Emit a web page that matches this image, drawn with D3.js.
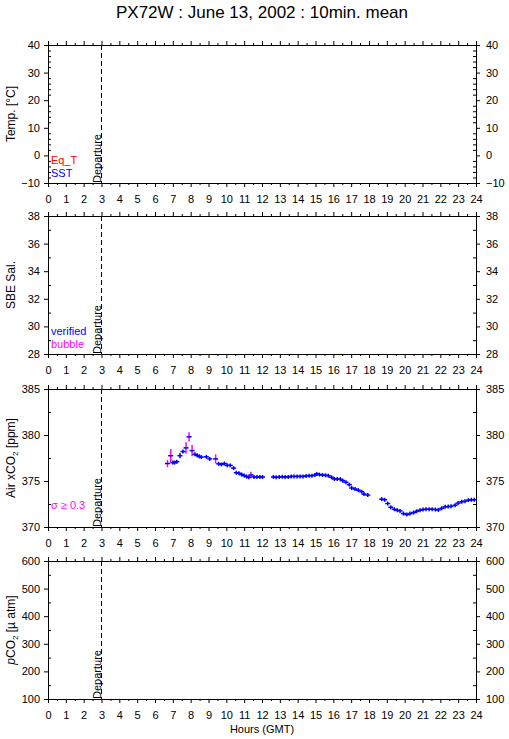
<!DOCTYPE html>
<html>
<head>
<meta charset="utf-8">
<script src="https://cdn.jsdelivr.net/npm/d3@7"></script>
<style>
  body { margin: 0; background: #fff; }
  text { font-family: "Liberation Sans", Helvetica, Arial, sans-serif; }
</style>
</head>
<body>
<div id="chart"></div>
<script>
// hour ticks shared by all panels
var hourTicks = d3.range(0, 25);
var halfHourTicks = d3.range(0.5, 24, 1);
var departureHour = 3;

// panel y axes
var tempTicks = [-10, 0, 10, 20, 30, 40];
var salTicks = [28, 30, 32, 34, 36, 38];
var xco2Ticks = [370, 375, 380, 385];
var pco2Ticks = [100, 200, 300, 400, 500, 600];

// Air xCO2, 10 min means
var airHours = [6.70, 6.88, 7.00, 7.10, 7.22, 7.40, 7.57, 7.74, 7.91, 8.08, 8.24, 8.37, 8.49, 8.60,
  8.88, 9.07, 9.40, 9.57, 9.72, 9.89, 10.05, 10.22, 10.41, 10.56, 10.71, 10.86, 11.00, 11.14,
  11.26, 11.38, 11.55, 11.72, 11.88, 12.03,
  12.64, 12.80, 12.97, 13.14, 13.30, 13.47, 13.64, 13.80, 13.97, 14.14, 14.30, 14.47, 14.64,
  14.80, 14.97, 15.07, 15.22, 15.39, 15.56, 15.72, 15.90, 16.06, 16.22, 16.39, 16.53, 16.71,
  16.90, 17.03, 17.22, 17.40, 17.59, 17.72, 17.93,
  18.71, 18.88, 19.05, 19.22, 19.42, 19.59, 19.74, 19.93, 20.12, 20.30, 20.50, 20.68, 20.86,
  21.03, 21.20, 21.37, 21.54, 21.72, 21.89, 22.08, 22.27, 22.44, 22.60, 22.83, 23.00, 23.20,
  23.38, 23.57, 23.74, 23.90];
var airXco2 = [376.9, 377.75, 377.0, 377.0, 377.1, 377.75, 378.2, 378.6, 379.8, 378.3, 377.9, 377.78, 377.67, 377.6,
  377.63, 377.4, 377.4, 376.87, 376.8, 376.9, 376.7, 376.7, 376.4, 375.9, 375.84, 375.7, 375.6, 375.48,
  375.4, 375.66, 375.44, 375.44, 375.44, 375.44,
  375.44, 375.4, 375.44, 375.46, 375.44, 375.44, 375.5, 375.5, 375.5, 375.5, 375.5, 375.55, 375.58,
  375.58, 375.65, 375.77, 375.7, 375.65, 375.62, 375.58, 375.4, 375.22, 375.22, 375.2, 375.04, 374.86,
  374.6, 374.24, 374.13, 374.0, 373.83, 373.58, 373.47,
  373.03, 372.96, 372.55, 372.15, 371.93, 371.82, 371.75, 371.46, 371.35, 371.46, 371.57, 371.72, 371.82,
  371.9, 371.93, 371.93, 371.93, 371.9, 371.86, 372.04, 372.19, 372.22, 372.25, 372.37, 372.6, 372.74,
  372.81, 372.92, 372.96, 372.96];
var airSigma = [0.4, 0.73, 0, 0, 0, 0.29, 0.1, 0.6, 0.5, 0.6, 0, 0, 0, 0,
  0, 0, 0.5, 0, 0, 0, 0, 0, 0, 0, 0, 0, 0, 0,
  0, 0.35, 0, 0, 0, 0,
  0, 0, 0, 0, 0, 0, 0, 0, 0, 0, 0, 0, 0,
  0, 0, 0, 0, 0, 0, 0, 0, 0, 0, 0, 0, 0,
  0, 0, 0, 0, 0, 0, 0,
  0, 0, 0, 0, 0, 0, 0, 0, 0, 0, 0, 0, 0,
  0, 0, 0, 0, 0, 0, 0, 0, 0, 0, 0, 0, 0,
  0, 0, 0, 0];

var width = 509, height = 739;
var margin = { left: 48, right: 33 };
var plotW = width - margin.left - margin.right;
var panelH = 138;
var panelTops = [45, 216, 389, 561];

var svg = d3.select("#chart").append("svg")
  .attr("width", width).attr("height", height);

svg.append("text")
  .attr("x", 262).attr("y", 18)
  .attr("text-anchor", "middle")
  .attr("font-size", 17)
  .text("PX72W : June 13, 2002 : 10min. mean");

var x = d3.scaleLinear().domain([0, 24]).range([0, plotW]);

var panels = [
  { ticks: tempTicks, minor: 2, label: [["Temp. [°C]"]] },
  { ticks: salTicks, minor: 1, label: [["SBE Sal."]] },
  { ticks: xco2Ticks, minor: 2.5, label: [["Air xCO"], ["2", "sub"], [" [ppm]", "up"]] },
  { ticks: pco2Ticks, minor: 50, label: [["p", "ital"], ["CO"], ["2", "sub"], [" [\u00b5 atm]", "up"]] }
];

panels.forEach(function (p, i) {
  var top = panelTops[i];
  var g = svg.append("g").attr("transform", "translate(" + margin.left + "," + top + ")");
  var lo = p.ticks[0], hi = p.ticks[p.ticks.length - 1];
  var y = d3.scaleLinear().domain([lo, hi]).range([panelH, 0]);
  p.y = y; p.g = g;
  var minorTicks = d3.range(lo, hi + 0.001, p.minor).filter(function (v) {
    return p.ticks.indexOf(v) < 0;
  });

  // bottom: labelled hours + half hours
  g.append("g").attr("transform", "translate(0," + panelH + ")")
    .call(d3.axisBottom(x).tickValues(hourTicks).tickSize(4).tickPadding(8).tickFormat(d3.format("d")));
  g.append("g").attr("transform", "translate(0," + panelH + ")")
    .call(d3.axisBottom(x).tickValues(halfHourTicks).tickSize(2).tickFormat(""));
  // top
  g.append("g").call(d3.axisTop(x).tickValues(hourTicks).tickSize(4).tickFormat(""));
  g.append("g").call(d3.axisTop(x).tickValues(halfHourTicks).tickSize(2).tickFormat(""));
  // left / right
  g.append("g").call(d3.axisLeft(y).tickValues(p.ticks).tickSize(4).tickPadding(4).tickFormat(d3.format("d")));
  g.append("g").call(d3.axisRight(y).tickValues(minorTicks).tickSize(3).tickFormat(""));
  g.append("g").attr("transform", "translate(" + plotW + ",0)")
    .call(d3.axisRight(y).tickValues(p.ticks).tickSize(4).tickPadding(6).tickFormat(d3.format("d")));
  g.append("g").attr("transform", "translate(" + plotW + ",0)")
    .call(d3.axisLeft(y).tickValues(minorTicks).tickSize(3).tickFormat(""));

  g.selectAll(".domain").attr("stroke", "#000");
  g.selectAll(".tick line").attr("stroke", "#000");
  g.selectAll(".tick text").attr("font-size", 11).attr("font-family", "Liberation Sans, Arial, sans-serif").attr("fill", "#000");

  g.append("rect").attr("width", plotW).attr("height", panelH)
    .attr("fill", "none").attr("stroke", "#000").attr("shape-rendering", "crispEdges");

  // departure marker
  g.append("line")
    .attr("x1", x(departureHour)).attr("x2", x(departureHour))
    .attr("y1", 0).attr("y2", panelH)
    .attr("stroke", "#000").attr("stroke-dasharray", "5,3");
  g.append("text")
    .attr("transform", "translate(" + (x(departureHour) - 1) + "," + panelH + ") rotate(-90)")
    .attr("font-size", 11)
    .text("Departure");

  // y label
  var lab = svg.append("text")
    .attr("transform", "translate(15," + (top + panelH / 2) + ") rotate(-90)")
    .attr("text-anchor", "middle")
    .attr("font-size", 12);
  p.label.forEach(function (part) {
    var t = lab.append("tspan").text(part[0]);
    if (part[1] === "sub") t.attr("font-size", 8).attr("dy", 3);
    else if (part[1] === "ital") t.attr("font-style", "italic");
    else if (part[1] === "up") t.attr("dy", -3);
  });
});

// legends
var p1 = panels[0].g;
p1.append("text").attr("x", 3).attr("y", panelH - 19).attr("font-size", 11).attr("fill", "#ff0000").text("Eq_T");
p1.append("text").attr("x", 3).attr("y", panelH - 6).attr("font-size", 11).attr("fill", "#0000ff").text("SST");
var p2 = panels[1].g;
p2.append("text").attr("x", 3).attr("y", panelH - 19).attr("font-size", 11).attr("fill", "#0000ff").text("verified");
p2.append("text").attr("x", 3).attr("y", panelH - 6).attr("font-size", 11).attr("fill", "#ff00ff").text("bubble");
var p3 = panels[2].g;
p3.append("text").attr("x", 3).attr("y", panelH - 18).attr("font-size", 11).attr("fill", "#ff00ff").text("\u03c3 \u2265 0.3");

// air xCO2 marks
var y3 = panels[2].y;
var air = airHours.map(function (h, i) { return { h: h, v: airXco2[i], s: airSigma[i] }; });
var marks = p3.append("g");
marks.selectAll(".err").data(air).enter().append("line")
  .attr("x1", function (d) { return x(d.h); })
  .attr("x2", function (d) { return x(d.h); })
  .attr("y1", function (d) { return Math.min(y3(d.v + d.s), y3(d.v) - 2); })
  .attr("y2", function (d) { return Math.max(y3(d.v - d.s), y3(d.v) + 2); })
  .attr("stroke", function (d) { return d.s >= 0.3 ? "#ff00ff" : "#0000ff"; })
  .attr("stroke-width", 1.5);
marks.selectAll(".bar").data(air).enter().append("line")
  .attr("x1", function (d) { return x(d.h) - 2.5; })
  .attr("x2", function (d) { return x(d.h) + 2.5; })
  .attr("y1", function (d) { return y3(d.v); })
  .attr("y2", function (d) { return y3(d.v); })
  .attr("stroke", "#0000ff")
  .attr("stroke-width", 1.5);

svg.append("text")
  .attr("x", 262).attr("y", 733)
  .attr("text-anchor", "middle")
  .attr("font-size", 11)
  .text("Hours (GMT)");
</script>
</body>
</html>
